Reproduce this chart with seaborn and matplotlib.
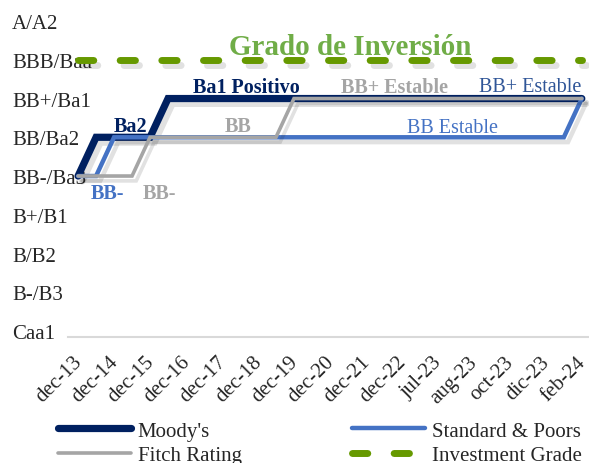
import numpy as np
import pandas as pd
import matplotlib
matplotlib.use("Agg")
import matplotlib.pyplot as plt
import matplotlib.patheffects as pe
import matplotlib.transforms as mtransforms
import seaborn as sns

# categories on the x axis
fechas = ["dec-13", "dec-14", "dec-15", "dec-16", "dec-17", "dec-18", "dec-19",
          "dec-20", "dec-21", "dec-22", "jul-23", "aug-23", "oct-23", "dic-23", "feb-24"]

# rating scale, bottom (0) to top (8)
escala = ["Caa1", "B-/B3", "B/B2", "B+/B1", "BB-/Ba3", "BB/Ba2", "BB+/Ba1", "BBB/Baa", "A/A2"]

# rating changes: position on the date axis and level on the scale
moodys_x = [0, 0.5, 2, 2.5, 14]
moodys_y = [4, 5, 5, 6, 6]
sp_x = [0, 0.5, 1, 13.5, 14]
sp_y = [4, 4, 5, 5, 6]
fitch_x = [0, 1.5, 2, 5.5, 6, 14]
fitch_y = [4, 4, 5, 5, 6, 6]
grado_inv = [7] * len(fechas)

# labels on the chart: text, x, y, colour, weight, size
etiquetas = [
    ("Grado de Inversión", 7.57, 7.35, "#70AD47", "bold", 21),
    ("Ba2", 1.47, 5.3, "#002060", "bold", 14.5),
    ("Ba1 Positivo", 4.69, 6.3, "#002060", "bold", 14.5),
    ("BB", 4.44, 5.3, "#A5A5A5", "bold", 14.5),
    ("BB+ Estable", 8.79, 6.3, "#A5A5A5", "bold", 14.5),
    ("BB+ Estable", 12.56, 6.3, "#2F5597", "normal", 14.5),
    ("BB Estable", 10.40, 5.24, "#4472C4", "normal", 14.5),
    ("BB-", 0.83, 3.56, "#4472C4", "bold", 14.5),
    ("BB-", 2.25, 3.56, "#A5A5A5", "bold", 14.5),
]

sns.set_theme(style="white")
plt.rcParams['font.family'] = ['Liberation Serif', 'DejaVu Serif']

fig = plt.figure(figsize=(5.89, 4.64), dpi=100)
ax = fig.add_axes([68 / 589, 1 - 338 / 464, 1 - 68 / 589, (338 - 5) / 464])

sombra = [pe.SimpleLineShadow(offset=(3, -3.5), shadow_color="k", alpha=0.13), pe.Normal()]

ig = pd.DataFrame({"x": np.arange(len(fechas)), "y": grado_inv})
sns.lineplot(data=ig, x="x", y="y", ax=ax, color="#669900", linewidth=5,
             linestyle=(0, (2.2, 3.8)), dash_capstyle="round",
             label="Investment Grade", path_effects=sombra, zorder=2)

series = [
    ("Moody's", moodys_x, moodys_y, "#002060", 5.2, 3),
    ("Standard & Poors", sp_x, sp_y, "#4472C4", 3.2, 4),
    ("Fitch Rating", fitch_x, fitch_y, "#A5A5A5", 2.6, 5),
]
for nombre, xs, ys, color, lw, z in series:
    df = pd.DataFrame({"x": xs, "y": ys})
    sns.lineplot(data=df, x="x", y="y", ax=ax, sort=False, estimator=None,
                 color=color, linewidth=lw, solid_capstyle="round",
                 solid_joinstyle="miter", label=nombre, path_effects=sombra, zorder=z)

for texto, x, y, color, peso, tam in etiquetas:
    ax.text(x, y, texto, color=color, fontweight=peso, fontsize=tam,
            ha="center", va="center", zorder=6)

ax.set_xlim(-0.28, 14.2)
ax.set_ylim(-0.155, 8.44)
ax.set_xticks(range(len(fechas)))
ax.set_xticklabels(fechas, rotation=45, ha="right", rotation_mode="anchor", fontsize=15)
ax.set_yticks(range(len(escala)))
ax.set_yticklabels(escala, ha="left", fontsize=15)
ax.tick_params(axis="y", length=0, pad=40.3)
ax.tick_params(axis="x", length=0, pad=11)
desplaza = mtransforms.ScaledTranslation(-4 / 72, 0, fig.dpi_scale_trans)
for lab in ax.get_xticklabels():
    lab.set_transform(lab.get_transform() + desplaza)
ax.set_xlabel("")
ax.set_ylabel("")
for lado in ["top", "right", "left"]:
    ax.spines[lado].set_visible(False)
ax.spines["bottom"].set_color("#D9D9D9")
ax.spines["bottom"].set_linewidth(1.5)

handles, labels = ax.get_legend_handles_labels()
orden = [labels.index(n) for n in ["Moody's", "Fitch Rating", "Standard & Poors", "Investment Grade"]]
leg = ax.legend([handles[i] for i in orden], [labels[i] for i in orden],
                ncol=2, frameon=False, fontsize=15, loc="upper left",
                bbox_to_anchor=(58 / 589, 1 - 422 / 464), bbox_transform=fig.transFigure,
                borderpad=0, borderaxespad=0, handlelength=3.5, handletextpad=0.33,
                columnspacing=5.3, labelspacing=0.25)
for linea in leg.get_lines():
    linea.set_path_effects([])

fig.savefig("out.png", dpi=100)
